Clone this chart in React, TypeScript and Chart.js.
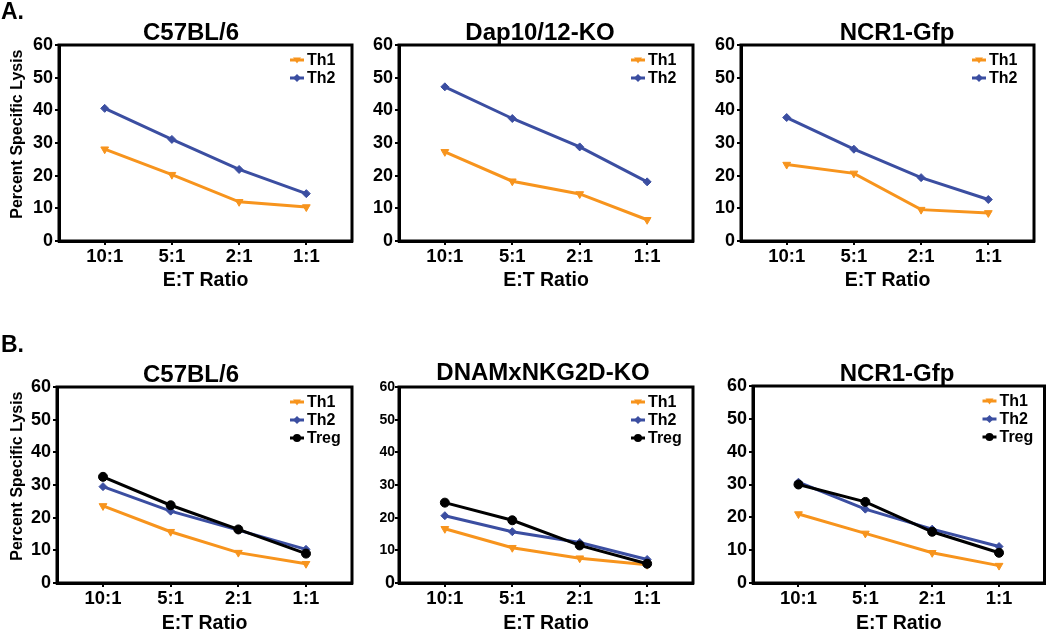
import React, { useEffect, useRef } from 'react';
import { Chart, registerables } from 'chart.js';

Chart.register(...registerables);

const FONT = "'Liberation Sans', Arial, Helvetica, sans-serif";

// ---- data ----
const ratioLabels = ['10:1', '5:1', '2:1', '1:1'];
const yTicks = [0, 10, 20, 30, 40, 50, 60];
const panelTitles = ['C57BL/6', 'Dap10/12-KO', 'NCR1-Gfp', 'C57BL/6', 'DNAMxNKG2D-KO', 'NCR1-Gfp'];
const xAxisTitle = 'E:T Ratio';
const yAxisTitle = 'Percent Specific Lysis';

const a1Th1 = [28.1, 20.3, 12.0, 10.4];
const a1Th2 = [40.6, 31.1, 21.9, 14.5];
const a2Th1 = [27.3, 18.3, 14.4, 6.5];
const a2Th2 = [47.2, 37.5, 28.8, 18.1];
const a3Th1 = [23.4, 20.7, 9.6, 8.6];
const a3Th2 = [37.8, 28.1, 19.4, 12.7];
const b1Th1 = [23.6, 15.7, 9.3, 5.9];
const b1Th2 = [29.5, 22.0, 16.2, 10.3];
const b1Treg = [32.5, 23.8, 16.4, 9.0];
const b2Th1 = [16.6, 10.8, 7.6, 5.6];
const b2Th2 = [20.6, 15.7, 12.4, 7.2];
const b2Treg = [24.6, 19.2, 11.5, 5.9];
const b3Th1 = [21.0, 15.1, 9.2, 5.3];
const b3Th2 = [30.7, 22.5, 16.4, 11.1];
const b3Treg = [30.0, 24.7, 15.6, 9.2];

// ---- styles ----
const SERIES_STYLE: Record<string, { color: string; pointStyle: string; rotation: number; radius: number }> = {
  Th1: { color: '#F7941D', pointStyle: 'triangle', rotation: 180, radius: 4.5 },
  Th2: { color: '#3B4EA1', pointStyle: 'rectRot', rotation: 0, radius: 4 },
  Treg: { color: '#000000', pointStyle: 'circle', rotation: 0, radius: 4.5 },
};

type Box = { x: number; y: number; w: number; h: number };
type Area = { l: number; r: number; t: number; b: number };
type PanelCfg = {
  title: string;
  letter?: string;
  letterY?: number;
  series: { name: string; values: number[] }[];
  box: Box;
  area: Area;
  titleX: number;
  titleY: number;
  yTitle: boolean;
  xTitlePad: number;
  smallTicks?: boolean;
};

const panels: PanelCfg[] = [
  {
    title: panelTitles[0], letter: 'A.', letterY: 13,
    series: [{ name: 'Th1', values: a1Th1 }, { name: 'Th2', values: a1Th2 }],
    box: { x: 0, y: 0, w: 360, h: 300 }, area: { l: 59, r: 352, t: 45, b: 241 },
    titleX: 191, titleY: 33, yTitle: true, xTitlePad: 9.5,
  },
  {
    title: panelTitles[1],
    series: [{ name: 'Th1', values: a2Th1 }, { name: 'Th2', values: a2Th2 }],
    box: { x: 360, y: 0, w: 340, h: 300 }, area: { l: 399, r: 693, t: 45, b: 241 },
    titleX: 540, titleY: 33, yTitle: false, xTitlePad: 9.5,
  },
  {
    title: panelTitles[2],
    series: [{ name: 'Th1', values: a3Th1 }, { name: 'Th2', values: a3Th2 }],
    box: { x: 700, y: 0, w: 350, h: 300 }, area: { l: 741, r: 1034, t: 45, b: 241 },
    titleX: 897, titleY: 33, yTitle: false, xTitlePad: 9.5,
  },
  {
    title: panelTitles[3], letter: 'B.', letterY: 46,
    series: [{ name: 'Th1', values: b1Th1 }, { name: 'Th2', values: b1Th2 }, { name: 'Treg', values: b1Treg }],
    box: { x: 0, y: 300, w: 360, h: 333 }, area: { l: 57, r: 352, t: 387, b: 583 },
    titleX: 191, titleY: 375, yTitle: true, xTitlePad: 0,
  },
  {
    title: panelTitles[4],
    series: [{ name: 'Th1', values: b2Th1 }, { name: 'Th2', values: b2Th2 }, { name: 'Treg', values: b2Treg }],
    box: { x: 360, y: 300, w: 340, h: 333 }, area: { l: 399, r: 693, t: 387, b: 583 },
    titleX: 543, titleY: 373.5, yTitle: false, xTitlePad: 0, smallTicks: true,
  },
  {
    title: panelTitles[5],
    series: [{ name: 'Th1', values: b3Th1 }, { name: 'Th2', values: b3Th2 }, { name: 'Treg', values: b3Treg }],
    box: { x: 700, y: 300, w: 350, h: 333 }, area: { l: 753, r: 1047, t: 386, b: 583 },
    titleX: 897, titleY: 374, yTitle: false, xTitlePad: 0,
  },
];

function drawMarker(ctx: CanvasRenderingContext2D, style: string, x: number, y: number, r: number, color: string) {
  ctx.fillStyle = color;
  ctx.beginPath();
  if (style === 'triangle') {
    ctx.moveTo(x - r, y - r * 0.6);
    ctx.lineTo(x + r, y - r * 0.6);
    ctx.lineTo(x, y + r * 0.9);
  } else if (style === 'rectRot') {
    ctx.moveTo(x, y - r);
    ctx.lineTo(x + r, y);
    ctx.lineTo(x, y + r);
    ctx.lineTo(x - r, y);
  } else {
    ctx.arc(x, y, r, 0, Math.PI * 2);
  }
  ctx.closePath();
  ctx.fill();
}

function Panel({ cfg }: { cfg: PanelCfg }) {
  const ref = useRef<HTMLCanvasElement | null>(null);

  useEffect(() => {
    if (!ref.current) return;
    const { box, area } = cfg;
    const n = cfg.series.length;

    const decor = {
      id: 'decor',
      afterDraw(chart: any) {
        const ctx: CanvasRenderingContext2D = chart.ctx;
        const a = chart.chartArea;
        ctx.save();
        ctx.strokeStyle = '#000';
        ctx.lineWidth = 3;
        ctx.strokeRect(a.left, a.top, a.right - a.left, a.bottom - a.top);

        ctx.fillStyle = '#000';
        ctx.font = `bold 24px ${FONT}`;
        ctx.textAlign = 'center';
        ctx.textBaseline = 'middle';
        ctx.fillText(cfg.title, cfg.titleX - box.x, cfg.titleY - box.y);
        if (cfg.letter) {
          ctx.font = `bold 23px ${FONT}`;
          ctx.textAlign = 'left';
          ctx.fillText(cfg.letter, 1 - box.x, (cfg.letterY || 0));
        }

        chart.data.datasets.forEach((ds: any, i: number) => {
          const y = a.top + 15 + 18 * i;
          const st = SERIES_STYLE[ds.label];
          ctx.strokeStyle = st.color;
          ctx.lineWidth = 3;
          ctx.beginPath();
          ctx.moveTo(a.right - 62, y);
          ctx.lineTo(a.right - 48, y);
          ctx.stroke();
          drawMarker(ctx, st.pointStyle, a.right - 55, y, 4, st.color);
          ctx.fillStyle = '#000';
          ctx.font = `bold 16px ${FONT}`;
          ctx.textAlign = 'left';
          ctx.textBaseline = 'middle';
          ctx.fillText(ds.label, a.right - 45, y + 1);
        });
        ctx.restore();
      },
    };

    const tickFontY = cfg.smallTicks
      ? (c: any) => ({ family: FONT, weight: 'bold', size: c.tick && c.tick.value === 0 ? 18 : 14 })
      : { family: FONT, weight: 'bold', size: 18 };

    const chart = new Chart(ref.current, {
      type: 'line',
      data: {
        datasets: cfg.series.map((s, i) => {
          const st = SERIES_STYLE[s.name];
          return {
            label: s.name,
            data: s.values.map((v, k) => ({ x: k, y: v })),
            borderColor: st.color,
            backgroundColor: st.color,
            borderWidth: 3,
            pointStyle: st.pointStyle as any,
            pointRotation: st.rotation,
            pointRadius: st.radius,
            pointBorderWidth: 1,
            pointBorderColor: st.color,
            pointBackgroundColor: st.color,
            tension: 0,
            fill: false,
            order: n - 1 - i,
          };
        }),
      },
      options: {
        animation: false,
        responsive: false,
        maintainAspectRatio: false,
        devicePixelRatio: 1,
        events: [],
        layout: {
          padding: { left: 0, top: area.t - box.y, right: box.x + box.w - area.r, bottom: 0 },
        },
        plugins: {
          legend: { display: false },
          title: { display: false },
          tooltip: { enabled: false },
        },
        scales: {
          x: {
            type: 'linear',
            min: -0.68,
            max: 3.68,
            afterBuildTicks: (s: any) => {
              s.ticks = ratioLabels.map((_, i) => ({ value: i }));
            },
            afterFit: (s: any) => {
              s.height = box.y + box.h - area.b;
            },
            ticks: {
              callback: (v: any) => ratioLabels[v] ?? '',
              font: { family: FONT, weight: 'bold', size: 18.5 },
              color: '#000',
              padding: 1,
              maxRotation: 0,
              autoSkip: false,
            },
            grid: { display: true, drawOnChartArea: false, drawTicks: true, tickLength: 4, lineWidth: 2, color: '#000' },
            border: { display: true, width: 3, color: '#000' },
            title: {
              display: true,
              text: xAxisTitle,
              color: '#000',
              font: { family: FONT, weight: 'bold', size: 19.5, lineHeight: 1 },
              padding: { top: 0, bottom: cfg.xTitlePad },
            },
          },
          y: {
            type: 'linear',
            min: 0,
            max: 60,
            afterBuildTicks: (s: any) => {
              s.ticks = yTicks.map((v) => ({ value: v }));
            },
            afterFit: (s: any) => {
              s.width = area.l - box.x;
            },
            ticks: {
              font: tickFontY as any,
              color: '#000',
              padding: cfg.smallTicks ? 0 : 2,
            },
            grid: { display: true, drawOnChartArea: false, drawTicks: true, tickLength: 4, lineWidth: 2, color: '#000' },
            border: { display: true, width: 3, color: '#000' },
            title: {
              display: cfg.yTitle,
              text: '    ' + yAxisTitle,
              color: '#000',
              font: { family: FONT, weight: 'bold', size: 16, lineHeight: 1 },
              padding: { top: 10, bottom: 0 },
            },
          },
        },
      } as any,
      plugins: [decor],
    });
    return () => chart.destroy();
  }, [cfg]);

  return (
    <canvas
      ref={ref}
      width={cfg.box.w}
      height={cfg.box.h}
      style={{ position: 'absolute', left: cfg.box.x, top: cfg.box.y, width: cfg.box.w, height: cfg.box.h }}
    />
  );
}

export default function App() {
  return (
    <div
      style={{
        position: 'absolute',
        left: 0,
        top: 0,
        width: 1050,
        height: 633,
        overflow: 'hidden',
        background: '#fff',
      }}
    >
      {panels.map((p, i) => (
        <Panel key={i} cfg={p} />
      ))}
    </div>
  );
}
